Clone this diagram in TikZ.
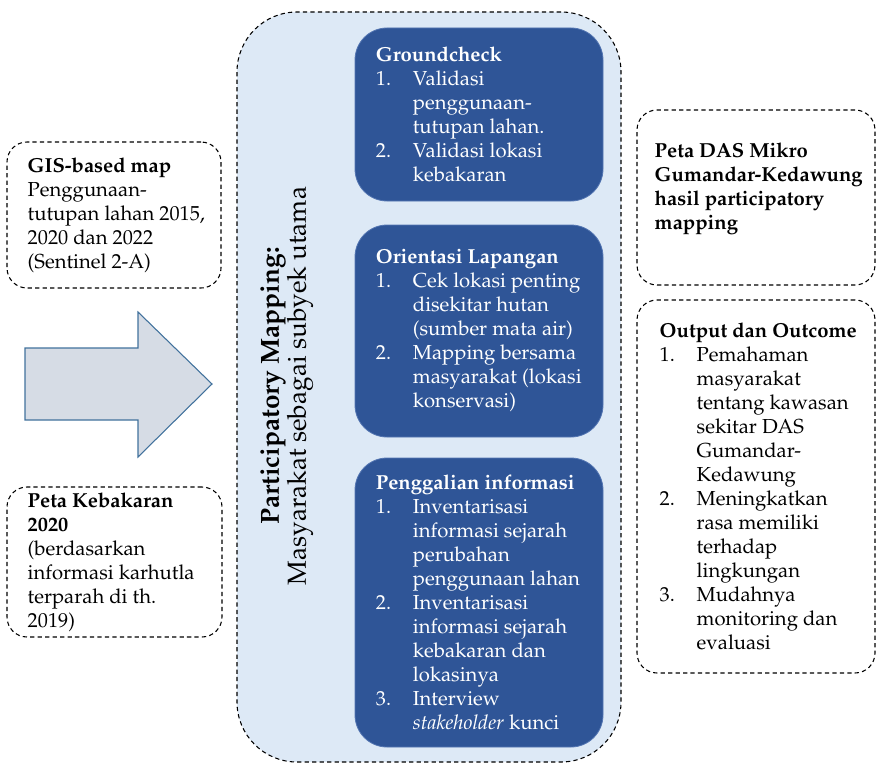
\documentclass[tikz,border=0pt]{standalone}
\usepackage[T1]{fontenc}
\usepackage{mathpazo}
\usetikzlibrary{positioning}

\definecolor{pmbg}{RGB}{221,233,246}
\definecolor{stepblue}{RGB}{47,85,151}
\definecolor{stepedge}{RGB}{84,118,178}
\definecolor{arrowbg}{RGB}{214,220,229}
\definecolor{arrowedge}{RGB}{65,113,156}

\newcommand{\enumlbl}[1]{\makebox[27.75pt][l]{#1}}
\newcommand{\enumgap}{\hspace*{27.75pt}}

\begin{document}
\begin{tikzpicture}[
      x=0.75pt, y=-0.75pt,
      font=\fontsize{15.2}{18}\selectfont,
      dashline/.style={draw, line width=0.8pt, dash pattern=on 3.2pt off 2.4pt},
      note/.style={dashline, rounded corners=15pt, inner sep=0pt},
      frame/.style={dashline, fill=pmbg, rounded corners=45pt, inner sep=0pt},
      stepbox/.style={draw=stepedge, line width=0.6pt, fill=stepblue, rounded corners=24pt, inner sep=0pt},
      notetext/.style={anchor=west, align=left, inner sep=0pt, text=black},
      steptext/.style={notetext, text=white},
      bigarrow/.style={draw=arrowedge, line width=0.8pt, fill=arrowbg}
    ]
    \useasboundingbox (0,0) rectangle (877,763);

    % inputs on the left
    \node[note, minimum width=160.5pt, minimum height=109.5pt] (gis) at (114,215) {};
    \node[notetext] (gis-text) at ([xshift=15.75pt]gis.west)
      {\textbf{GIS-based map}\\Penggunaan-\\tutupan lahan 2015,\\2020 dan 2022\\(Sentinel 2-A)};

    \node[note, minimum width=161.25pt, minimum height=112.5pt] (fire) at (114.5,562) {};
    \node[notetext] (fire-text) at ([xshift=15.75pt]fire.west)
      {\textbf{Peta Kebakaran}\\\textbf{2020}\\(berdasarkan\\informasi karhutla\\terparah di th.\\2019)};

    \draw[bigarrow] (25,348) -- (138,348) -- (138,312) -- (212,384)
      -- (138,457) -- (138,420) -- (25,420) -- cycle;

    % participatory mapping frame
    \node[frame, minimum width=288pt, minimum height=562.5pt] (pm) at (429,387) {};
    \node[rotate=90, align=center, font=\fontsize{19.6}{20.25}\selectfont] (pm-label) at (287,386)
      {\textbf{Participatory Mapping:}\\Masyarakat sebagai subyek utama};

    \node[stepbox, minimum width=186pt, minimum height=129.75pt] (ground) at (479,114.5) {};
    \node[steptext] (ground-text) at ([xshift=15.75pt]ground.west)
      {\textbf{Groundcheck}\\
       \enumlbl{1.}Validasi\\
       \enumgap penggunaan-\\
       \enumgap tutupan lahan.\\
       \enumlbl{2.}Validasi lokasi\\
       \enumgap kebakaran};

    \node[stepbox, minimum width=186pt, minimum height=159pt] (orient) at (479,331) {};
    \node[steptext] (orient-text) at ([xshift=15.75pt]orient.west)
      {\textbf{Orientasi Lapangan}\\
       \enumlbl{1.}Cek lokasi penting\\
       \enumgap disekitar hutan\\
       \enumgap (sumber mata air)\\
       \enumlbl{2.}Mapping bersama\\
       \enumgap masyarakat (lokasi\\
       \enumgap konservasi)};

    \node[stepbox, minimum width=186pt, minimum height=216.75pt] (dig) at (479,602.5) {};
    \node[steptext] (dig-text) at ([xshift=15.75pt]dig.west)
      {\textbf{Penggalian informasi}\\
       \enumlbl{1.}Inventarisasi\\
       \enumgap informasi sejarah\\
       \enumgap perubahan\\
       \enumgap penggunaan lahan\\
       \enumlbl{2.}Inventarisasi\\
       \enumgap informasi sejarah\\
       \enumgap kebakaran dan\\
       \enumgap lokasinya\\
       \enumlbl{3.}Interview\\
       \enumgap \textit{stakeholder} kunci};

    % results on the right
    \node[note, minimum width=178.5pt, minimum height=131.25pt] (das) at (756,197.5) {};
    \node[notetext, font=\fontsize{15.2}{18}\selectfont\bfseries] (das-text) at ([xshift=13.5pt,yshift=6.75pt]das.west)
      {Peta DAS Mikro\\Gumandar-Kedawung\\hasil participatory\\mapping};

    \node[note, minimum width=178.5pt, minimum height=279.75pt] (out) at (756,486.5) {};
    \node[notetext] (out-text) at ([xshift=17.25pt]out.west)
      {\textbf{Output dan Outcome}\\
       \enumlbl{1.}Pemahaman\\
       \enumgap masyarakat\\
       \enumgap tentang kawasan\\
       \enumgap sekitar DAS\\
       \enumgap Gumandar-\\
       \enumgap Kedawung\\
       \enumlbl{2.}Meningkatkan\\
       \enumgap rasa memiliki\\
       \enumgap terhadap\\
       \enumgap lingkungan\\
       \enumlbl{3.}Mudahnya\\
       \enumgap monitoring dan\\
       \enumgap evaluasi};
  \end{tikzpicture}
\end{document}
